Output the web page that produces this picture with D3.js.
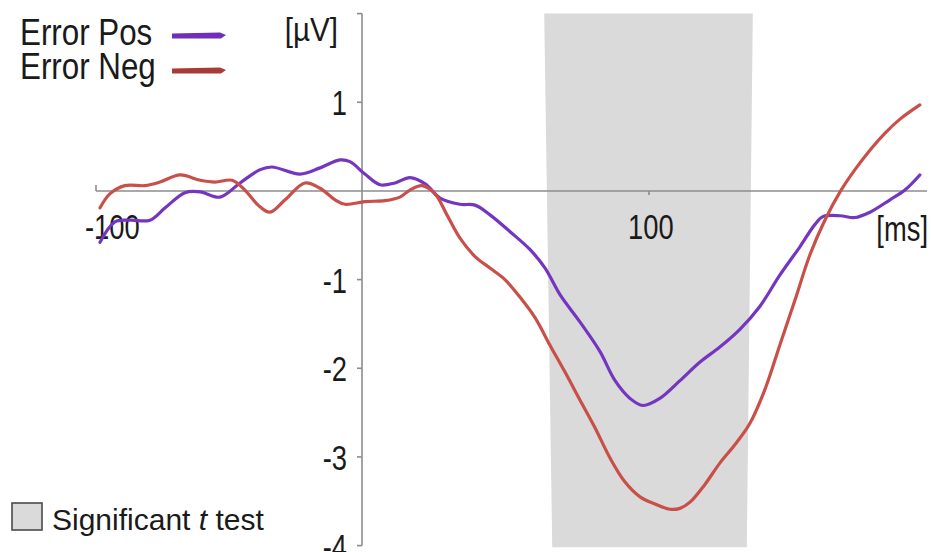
<!DOCTYPE html>
<html><head><meta charset="utf-8">
<script src="https://cdn.jsdelivr.net/npm/d3@7"></script>
<style>
html,body{margin:0;padding:0;background:#fff;}
text{font-family:"Liberation Sans",Arial,sans-serif;fill:#1a1a1a;}
</style></head>
<body>
<svg id="chart" width="931" height="552"></svg>
<script>
// ---- data ----
const seriesNames = ["Error Pos", "Error Neg"];
const seriesColors = ["#7436c0", "#c94f49"];
const swatchColors = ["#6f2fb8", "#a83b38"];

const posTimes = [-91.3,-86.1,-80.8,-73.9,-68.6,-61.7,-56.4,-49.5,-42.5,-35.5,-31.4,-21.6,-14.6,-7.7,-4.2,1.0,6.3,11.5,16.7,22.0,27.2,34.1,39.4,44.6,51.6,58.5,63.8,69.0,76.0,82.9,88.2,93.4,97.9,103.8,110.8,117.8,124.7,131.7,138.7,145.6,152.6,157.8,160.6,166.6,171.8,177.0,184.0,189.2,194.4];
const posValues = [-0.58,-0.35,-0.33,-0.33,-0.19,-0.02,-0.01,-0.07,0.09,0.24,0.27,0.19,0.26,0.35,0.33,0.19,0.07,0.09,0.15,0.08,-0.08,-0.15,-0.16,-0.27,-0.46,-0.66,-0.87,-1.17,-1.48,-1.81,-2.14,-2.34,-2.42,-2.34,-2.14,-1.93,-1.76,-1.56,-1.30,-0.95,-0.63,-0.38,-0.29,-0.28,-0.30,-0.24,-0.10,0.01,0.18];

const negTimes = [-91.3,-87.8,-82.6,-75.6,-70.4,-63.4,-56.4,-51.2,-45.3,-40.8,-36.2,-32.1,-26.8,-19.9,-14.6,-9.4,-5.9,1.0,8.0,13.2,16.7,20.9,25.4,29.6,34.1,39.4,44.6,49.8,55.1,60.3,65.5,70.7,76.0,81.2,86.4,91.6,96.9,102.1,107.3,110.8,114.3,119.5,124.7,130.0,135.2,140.4,145.6,150.9,156.1,161.3,166.6,171.8,177.0,182.2,187.5,194.4];
const negValues = [-0.19,-0.03,0.06,0.06,0.10,0.18,0.12,0.10,0.12,0.01,-0.16,-0.24,-0.10,0.09,0.03,-0.10,-0.15,-0.12,-0.11,-0.07,0.01,0.06,-0.03,-0.27,-0.53,-0.74,-0.87,-1.00,-1.20,-1.43,-1.74,-2.04,-2.36,-2.67,-3.01,-3.28,-3.45,-3.53,-3.59,-3.58,-3.51,-3.31,-3.07,-2.86,-2.62,-2.24,-1.74,-1.23,-0.72,-0.33,-0.01,0.24,0.46,0.65,0.81,0.97];

// significant t-test band (time, value) corners
const bandTimes = [63.5, 136.2, 134.1, 66.3];
const bandValues = [2.0, 2.0, -4.02, -4.02];

const yTicks = [1, -1, -2, -3, -4];
const yTickLabels = ["1", "-1", "-2", "-3", "-4"];
const xTicks = [100];
const xTickLabels = ["100"];
const xStartLabel = "-100";
const yUnit = "[µV]";
const xUnit = "[ms]";
const bandLabel = ["Significant ", "t", " test"];

// ---- scales ----
const xDomain = [-92.7, 196.9];
const yDomain = [-4, 2];
const x = d3.scaleLinear().domain(xDomain).range([96, 927]);
const y = d3.scaleLinear().domain(yDomain).range([545.6, 13.6]);

const svg = d3.select("#chart");
const axisColor = "#8c8c8c";

// helper: horizontally condensed text anchored at (tx, ty)
function ctext(tx, ty, str, size, sx, anchor) {
  return svg.append("text").attr("x", tx).attr("y", ty)
    .attr("text-anchor", anchor || "start").attr("font-size", size)
    .attr("transform", `translate(${tx * (1 - sx)},0) scale(${sx},1)`)
    .text(str);
}

// band
const bandPts = bandTimes.map((t, i) => [x(t), y(bandValues[i])]);
svg.append("polygon")
  .attr("points", bandPts.map(p => p.join(",")).join(" "))
  .attr("fill", "#dadada");

// x axis
const x0 = x(0), y0 = y(0);
svg.append("line").attr("x1", x(xDomain[0])).attr("x2", x(xDomain[1]))
  .attr("y1", y0).attr("y2", y0).attr("stroke", axisColor).attr("stroke-width", 1.6);
svg.append("line").attr("x1", x(xDomain[0])).attr("x2", x(xDomain[0]))
  .attr("y1", y0 - 6).attr("y2", y0).attr("stroke", axisColor).attr("stroke-width", 1.6);
xTicks.forEach((t, i) => {
  svg.append("line").attr("x1", x(t)).attr("x2", x(t)).attr("y1", y0).attr("y2", y0 + 4)
    .attr("stroke", axisColor).attr("stroke-width", 1.6);
  ctext(x(t) + 2, 239, xTickLabels[i], 36, 0.76, "middle");
});
ctext(85, 239, xStartLabel, 36, 0.76);
ctext(928, 241, xUnit, 36, 0.76, "end");

// y axis
svg.append("line").attr("x1", x0).attr("x2", x0).attr("y1", y(yDomain[1])).attr("y2", y(yDomain[0]))
  .attr("stroke", axisColor).attr("stroke-width", 1.6);
[yDomain[1], ...yTicks].forEach(v => {
  svg.append("line").attr("x1", x0 - 5).attr("x2", x0).attr("y1", y(v)).attr("y2", y(v))
    .attr("stroke", axisColor).attr("stroke-width", 1.6);
});
yTicks.forEach((v, i) => {
  ctext(347, y(v) + 13, yTickLabels[i], 36, 0.76, "end");
});
ctext(338, 41, yUnit, 34, 0.87, "end");

// lines
const line = d3.line().x(d => x(d[0])).y(d => y(d[1])).curve(d3.curveCatmullRom.alpha(0.5));
const series = [
  d3.zip(posTimes, posValues),
  d3.zip(negTimes, negValues)
];
series.forEach((s, i) => {
  svg.append("path").datum(s).attr("d", line).attr("fill", "none")
    .attr("stroke", seriesColors[i]).attr("stroke-width", 3.2)
    .attr("stroke-linejoin", "round").attr("stroke-linecap", "round");
});

// legend (top-left)
const legY = [45, 79];
const swY = [36, 71];
seriesNames.forEach((n, i) => {
  ctext(20, legY[i], n, 36, 0.87);
  const s = swY[i];
  svg.append("path")
    .attr("d", `M172,${s-2.5} L220,${s-3.5} L226,${s-1} L221,${s+2.5} L172,${s+2.5} Z`)
    .attr("fill", swatchColors[i]);
});

// band legend (bottom-left)
svg.append("rect").attr("x", 12).attr("y", 503).attr("width", 30).attr("height", 27)
  .attr("fill", "#dadada").attr("stroke", "#4a4a4a").attr("stroke-width", 1.6);
const bl = svg.append("text").attr("x", 52).attr("y", 530).attr("font-size", 30);
bl.append("tspan").text(bandLabel[0]);
bl.append("tspan").attr("font-style", "italic").text(bandLabel[1]);
bl.append("tspan").text(bandLabel[2]);
</script>
</body></html>
